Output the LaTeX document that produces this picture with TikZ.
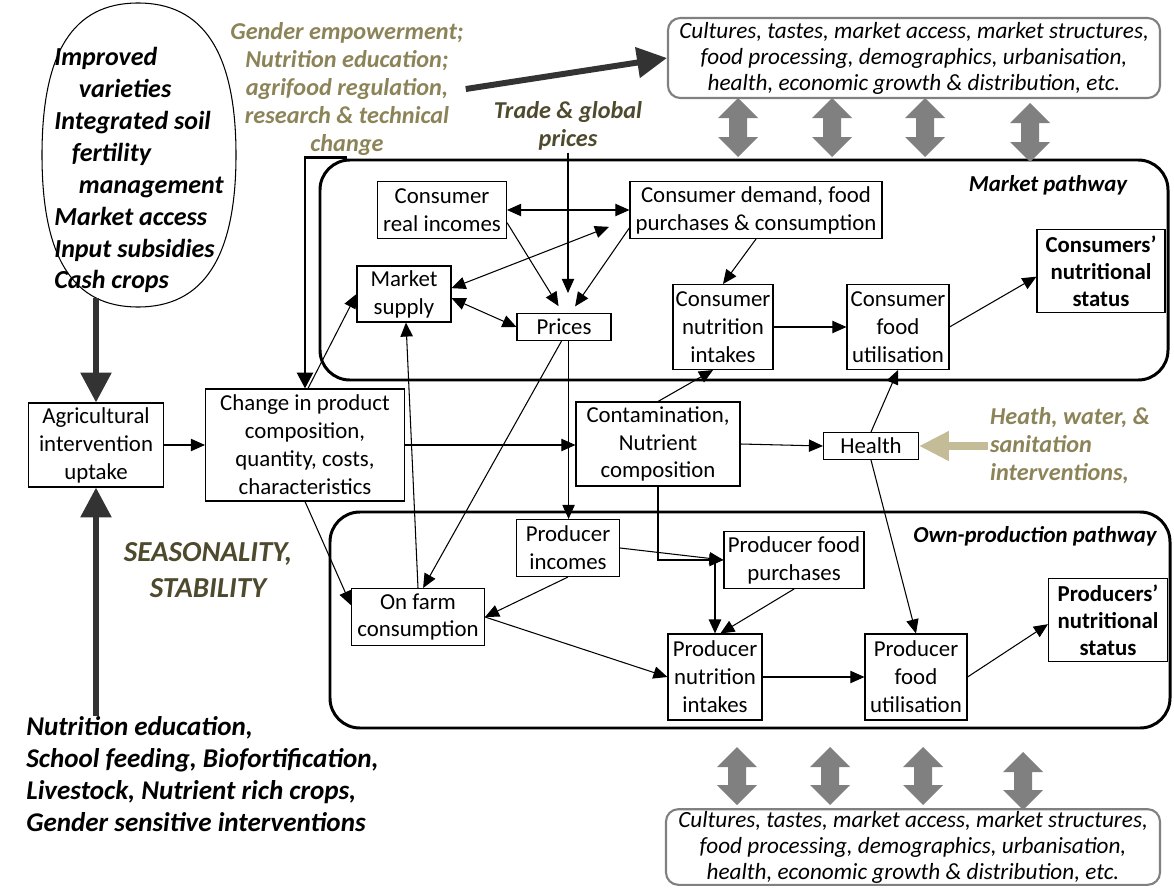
\documentclass[tikz,border=0pt]{standalone}
\usepackage{fontspec}
\setmainfont{Carlito}
\usetikzlibrary{arrows.meta}

\newlength{\du}
\setlength{\du}{0.02cm}

\definecolor{olivetext}{RGB}{140,132,88}
\definecolor{darkolive}{RGB}{78,74,46}
\definecolor{tanarrow}{RGB}{196,188,150}
\definecolor{blockgray}{RGB}{128,128,128}
\definecolor{heavygray}{RGB}{51,51,51}

\tikzset{
  box/.style={draw, line width=0.6pt, fill=white, align=center, inner sep=1pt,
    font=\fontsize{13}{15.9}\selectfont},
  boldbox/.style={box, font=\fontsize{13}{15.4}\selectfont\bfseries},
  lane/.style={draw, line width=1.7pt, rounded corners=17pt},
  lanelabel/.style={font=\fontsize{13}{15.9}\selectfont\bfseries\itshape},
  ctxbox/.style={draw=blockgray, line width=1.2pt, rounded corners=7pt, fill=white,
    align=center, inner sep=1pt, font=\fontsize{13.2}{14.8}\selectfont\itshape},
  bigtext/.style={align=left, inner sep=0pt,
    font=\fontsize{15.4}{18.2}\selectfont\bfseries\itshape},
  hinttext/.style={align=center, inner sep=1pt,
    font=\fontsize{13.8}{16}\selectfont\bfseries\itshape},
  arr/.style={-{Triangle[length=8pt,width=7pt]}, line width=0.6pt},
  dbl/.style={{Triangle[length=8pt,width=7pt]}-{Triangle[length=8pt,width=7pt]}, line width=0.6pt},
  heavy/.style={-{Triangle[length=17pt,width=17pt]}, line width=3.4pt, draw=heavygray},
  blackheavy/.style={-{Triangle[length=9pt,width=9pt]}, line width=1.7pt},
  tanheavy/.style={-{Triangle[length=17pt,width=16pt]}, line width=4pt, draw=tanarrow}
}

\begin{document}
\begin{tikzpicture}[x=1\du, y=-1\du]
\useasboundingbox (0,0) rectangle (1174,889);

% pathway frames
\draw[lane] (320,160) rectangle (1168,380);
\draw[lane] (330,512) rectangle (1170,728);
\node[lanelabel] (mktlbl) at (1048,185) {Market pathway};
\node[lanelabel] (ownlbl) at (1035,536) {Own-production pathway};

% grey two-way block arrows
\foreach \bx/\btop/\bbot in {738/98/157, 832/98/157, 925/98/157, 1030/103/162,
                              737/747/805, 830/747/805, 923/747/805, 1023/752/810}
  \fill[blockgray] (\bx,\btop) -- (\bx+20,\btop+20) -- (\bx+9,\btop+20) -- (\bx+9,\bbot-20)
    -- (\bx+20,\bbot-20) -- (\bx,\bbot) -- (\bx-20,\bbot-20) -- (\bx-9,\bbot-20)
    -- (\bx-9,\btop+20) -- (\bx-20,\btop+20) -- cycle;

% context boxes
\node[ctxbox, minimum width=492\du, minimum height=80\du] (ctxtop) at (914,58)
  {Cultures, tastes, market access, market structures,\\food processing, demographics, urbanisation,\\health, economic growth \& distribution, etc.};
\node[ctxbox, minimum width=494\du, minimum height=75\du] (ctxbot) at (913,847)
  {Cultures, tastes, market access, market structures,\\food processing, demographics, urbanisation,\\health, economic growth \& distribution, etc.};

% interventions (oval drawn a little fuller than an ellipse)
\draw[line width=0.6pt] (42,155) .. controls (42,52) and (73,3) .. (138,3)
  .. controls (203,3) and (236,52) .. (236,155)
  .. controls (236,258) and (203,307) .. (138,307)
  .. controls (73,307) and (42,258) .. (42,155) -- cycle;
\coordinate (ovalbot) at (97,298);
\node[bigtext, anchor=west, font=\fontsize{14.8}{18.2}\selectfont\bfseries\itshape] (elltxt) at (54,170)
  {Improved\\\hspace*{14pt}varieties\\Integrated soil\\\hspace*{10pt}fertility\\\hspace*{14pt}management\\Market access\\Input subsidies\\Cash crops};
\node[bigtext, anchor=north west] (nutr) at (26,716)
  {Nutrition education,\\School feeding, Biofortification,\\Livestock, Nutrient rich crops,\\Gender sensitive interventions};
\node[hinttext, text=olivetext] (gen) at (347,89)
  {Gender empowerment;\\Nutrition education;\\agrifood regulation,\\research \& technical\\change};
\node[hinttext, text=darkolive] (trade) at (568,126) {Trade \& global\\prices};
\node[hinttext, text=olivetext, align=left, anchor=west] (hw) at (988,446)
  {Heath, water, \&\\sanitation\\interventions,};
\node[hinttext, text=darkolive, font=\fontsize{16.5}{20.5}\selectfont\bfseries\itshape] (season) at (208,570)
  {SEASONALITY,\\STABILITY};

% boxes
\node[box, minimum width=135\du, minimum height=84\du] (agri) at (96,445) {Agricultural\\intervention\\uptake};
\node[box, minimum width=199\du, minimum height=112\du] (chg) at (305,445) {Change in product\\composition,\\quantity, costs,\\characteristics};
\node[box, minimum width=129\du, minimum height=57\du] (cri) at (442,210) {Consumer\\real incomes};
\node[box, minimum width=252\du, minimum height=57\du] (cdem) at (756,210) {Consumer demand, food\\purchases \& consumption};
\node[box, minimum width=94\du, minimum height=56\du] (msup) at (404,294) {Market\\supply};
\node[box, minimum width=94\du, minimum height=27\du] (price) at (564,327) {Prices};
\node[box, minimum width=100\du, minimum height=85\du] (cint) at (723,327) {Consumer\\nutrition\\intakes};
\node[box, minimum width=102\du, minimum height=85\du] (cutil) at (898,327) {Consumer\\food\\utilisation};
\node[boldbox, minimum width=128\du, minimum height=83\du] (cstat) at (1101,271) {Consumers’\\nutritional\\status};
\node[box, minimum width=164\du, minimum height=84\du] (cont) at (658,444) {Contamination,\\Nutrient\\composition};
\node[box, minimum width=95\du, minimum height=27\du] (hlth) at (871,446) {Health};
\node[box, minimum width=103\du, minimum height=57\du] (pinc) at (568,548) {Producer\\incomes};
\node[box, minimum width=140\du, minimum height=57\du] (ppur) at (794,560) {Producer food\\purchases};
\node[box, minimum width=133\du, minimum height=57\du] (farm) at (418,617) {On farm\\consumption};
\node[box, minimum width=94\du, minimum height=86\du] (pint) at (715,677) {Producer\\nutrition\\intakes};
\node[box, minimum width=102\du, minimum height=86\du] (putil) at (916,677) {Producer\\food\\utilisation};
\node[boldbox, minimum width=119\du, minimum height=83\du] (pstat) at (1108,620) {Producers’\\nutritional\\status};

% heavy arrows
\draw[heavy] (agri.north |- ovalbot) -- (agri.north);
\draw[heavy] (agri.south |- nutr.north) -- (agri.south);
\draw[heavy] (gen.east) -- (ctxtop.west);
\draw[blackheavy] (gen.south) -| (chg.north);
\draw[tanheavy] (hw.west) -- (hlth.east);

% market pathway links
\draw[arr, shorten >=20\du] (trade.south) -- (trade.south |- price.north);
\draw[dbl] (cri.east) -- (cdem.west);
\draw[arr, shorten >=8\du] (cri.-11) -- (price.95);
\draw[arr, shorten >=8\du] (cdem.188) -- (price.65);
\draw[dbl, shorten >=22\du] (msup.7) -- (cdem.184);
\draw[dbl] (msup.-5) -- (price.west);
\draw[arr] (chg.87) -- (msup.west);
\draw[arr] (farm.north) -- (msup.-86);
\draw[arr] (price.-100) -- (farm.80);
\draw[arr] (price.-72) -- (price.-72 |- pinc.north);
\draw[arr] (cdem.south) -- (cint.north);
\draw[arr] (cint.east) -- (cutil.west);
\draw[arr] (cutil.east) -- (cstat.185);

% middle row
\draw[arr] (agri.east) -- (chg.west);
\draw[arr] (chg.east) -- (chg.east -| cont.west);
\draw[arr] (cont.north) -- (cint.-103);
\draw[arr] (cont.east) -- (hlth.west);
\draw[arr] (hlth.north) -- (cutil.south);
\draw[arr] (hlth.south) -- (putil.north);
\draw[arr] (chg.south) -- (farm.170);

% own-production pathway links
\draw[arr] (cont.south) |- (ppur.west);
\draw[arr] (pinc.east) -- (ppur.west);
\draw[arr, line width=1pt] (pint.north |- ppur.west) -- (pint.north);
\draw[arr] (ppur.south) -- (pint.83);
\draw[arr] (pinc.south) -- (farm.east);
\draw[arr] (farm.east) -- (pint.west);
\draw[arr] (pint.east) -- (putil.west);
\draw[arr] (putil.east) -- (pstat.184);
\end{tikzpicture}
\end{document}
